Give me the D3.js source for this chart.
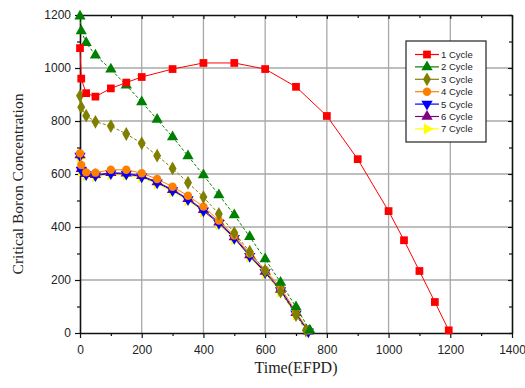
<!DOCTYPE html>
<html>
<head>
<meta charset="utf-8">
<script src="https://cdn.jsdelivr.net/npm/d3@7"></script>
<style>
  body { margin: 0; background: #fff; }
  svg text { font-family: Arial, "Liberation Sans", sans-serif; }
</style>
</head>
<body>
<div id="wrapper"></div>
<script>
// data
const xLong = [0, 4, 20, 50, 100, 150, 200, 300, 400, 500, 600, 700, 800, 900, 1000, 1050, 1100, 1150, 1195]
const cycle1 = [1075, 960, 905, 892, 923, 945, 966, 996, 1019, 1019, 996, 929, 819, 656, 460, 350, 234, 117, 10]

const xC2 = [0, 4, 20, 50, 100, 150, 200, 250, 300, 350, 400, 450, 500, 550, 600, 650, 700, 745]
const cycle2 = [1195, 1140, 1095, 1048, 995, 935, 872, 806, 740, 668, 596, 521, 445, 363, 279, 191, 98, 10]

const xC3 = [0, 4, 20, 50, 100, 150, 200, 250, 300, 350, 400, 450, 500, 550, 600, 650, 700, 732]
const cycle3 = [895, 852, 820, 797, 781, 751, 716, 669, 621, 567, 513, 449, 378, 307, 235, 156, 68, 10]

const xShort = [0, 4, 20, 50, 100, 150, 200, 250, 300, 350, 400, 450, 500, 550, 600, 650, 700, 740]
const cycle4 = [678, 634, 606, 605, 616, 616, 603, 581, 552, 518, 477, 424, 368, 300, 238, 172, 80, 10]
const cycle5 = [668, 615, 598, 594, 602, 600, 590, 567, 538, 504, 461, 414, 358, 290, 228, 160, 72, 5]
const cycle6 = [672, 620, 601, 597, 605, 603, 593, 570, 541, 507, 465, 418, 362, 294, 232, 164, 76, 7]
const cycle7 = [662, 610, 593, 590, 598, 596, 586, 563, 534, 500, 457, 410, 354, 286, 224, 156, 68, 4]

const xTicks = [0, 200, 400, 600, 800, 1000, 1200, 1400]
const yTicks = [0, 200, 400, 600, 800, 1000, 1200]

const series = [
    { name: "1 Cycle", xs: xLong, ys: cycle1, color: "#ff0000", shape: "square", dash: null },
    { name: "2 Cycle", xs: xC2, ys: cycle2, color: "#008000", shape: "triUp", dash: "3,2" },
    { name: "3 Cycle", xs: xC3, ys: cycle3, color: "#808000", shape: "diamond", dash: "3,2" },
    { name: "4 Cycle", xs: xShort, ys: cycle4, color: "#ff8000", shape: "circle", dash: null },
    { name: "5 Cycle", xs: xShort, ys: cycle5, color: "#0000ff", shape: "triDown", dash: null },
    { name: "6 Cycle", xs: xShort, ys: cycle6, color: "#800080", shape: "triUp", dash: null },
    { name: "7 Cycle", xs: xShort, ys: cycle7, color: "#ffff00", shape: "triRight", dash: null },
]

// 1. dimensions
let dimensions = {
    width: 525,
    height: 388,
    margin: { top: 15, right: 13, bottom: 55, left: 80 },
}
dimensions.boundedWidth = dimensions.width - dimensions.margin.left - dimensions.margin.right
dimensions.boundedHeight = dimensions.height - dimensions.margin.top - dimensions.margin.bottom

const wrapper = d3.select("#wrapper")
    .append("svg")
    .attr("width", dimensions.width)
    .attr("height", dimensions.height)

const bounds = wrapper.append("g")
    .attr("transform", `translate(${dimensions.margin.left}, ${dimensions.margin.top})`)

const xScale = d3.scaleLinear().domain([0, 1400]).range([0, dimensions.boundedWidth])
const yScale = d3.scaleLinear().domain([0, 1200]).range([dimensions.boundedHeight, 0])

// grid
bounds.append("g").selectAll("line")
    .data(xTicks.filter(d => d > 0 && d < 1400))
    .join("line")
    .attr("x1", d => xScale(d)).attr("x2", d => xScale(d))
    .attr("y1", 0).attr("y2", dimensions.boundedHeight)
    .attr("stroke", "#a8a8a8").attr("stroke-width", 1.3)
bounds.append("g").selectAll("line")
    .data(yTicks.filter(d => d > 0 && d < 1200))
    .join("line")
    .attr("y1", d => yScale(d)).attr("y2", d => yScale(d))
    .attr("x1", 0).attr("x2", dimensions.boundedWidth)
    .attr("stroke", "#a8a8a8").attr("stroke-width", 1.3)

// axes
const minorX = d3.range(0, 1401, 100)
const minorY = d3.range(0, 1201, 100)

const xAxis = bounds.append("g")
    .attr("transform", `translate(0, ${dimensions.boundedHeight})`)
    .call(d3.axisBottom(xScale).tickValues(minorX).tickSize(5).tickSizeOuter(0)
        .tickFormat(d => xTicks.includes(d) ? d : ""))
xAxis.selectAll("text").attr("font-size", 12).attr("fill", "#222").attr("dy", "1.05em")

const yAxis = bounds.append("g")
    .call(d3.axisLeft(yScale).tickValues(minorY).tickSize(5).tickSizeOuter(0)
        .tickFormat(d => yTicks.includes(d) ? d : ""))
yAxis.selectAll("text").attr("font-size", 12).attr("fill", "#222").attr("x", -9)

const topAxis = bounds.append("g")
    .call(d3.axisBottom(xScale).tickValues(minorX).tickSize(4).tickSizeOuter(0).tickFormat(""))
const rightAxis = bounds.append("g")
    .attr("transform", `translate(${dimensions.boundedWidth}, 0)`)
    .call(d3.axisLeft(yScale).tickValues(minorY).tickSize(4).tickSizeOuter(0).tickFormat(""))

// minor ticks shorter
;[xAxis, yAxis, topAxis, rightAxis].forEach(ax => {
    ax.selectAll(".domain").attr("stroke", "#111").attr("stroke-width", 1.6)
    ax.selectAll(".tick line").attr("stroke", "#111").attr("stroke-width", 1.2)
})
xAxis.selectAll(".tick").filter(d => !xTicks.includes(d)).select("line").attr("y2", 3)
yAxis.selectAll(".tick").filter(d => !yTicks.includes(d)).select("line").attr("x2", -3)
topAxis.selectAll(".tick").filter(d => !xTicks.includes(d)).select("line").attr("y2", 3)
rightAxis.selectAll(".tick").filter(d => !yTicks.includes(d)).select("line").attr("x2", -3)

// markers
const sym = {
    square: d3.symbol(d3.symbolSquare, 60),
    triUp: d3.symbol(d3.symbolTriangle, 55),
    diamond: d3.symbol(d3.symbolDiamond, 55),
    circle: d3.symbol(d3.symbolCircle, 55),
    triDown: d3.symbol(d3.symbolTriangle, 55),
    triRight: d3.symbol(d3.symbolTriangle, 55),
}
const rot = { triDown: 180, triRight: 90 }

function drawMarker (g, shape, color, x, y) {
    g.append("path")
        .attr("d", sym[shape]())
        .attr("transform", `translate(${x}, ${y}) rotate(${rot[shape] || 0})`)
        .attr("fill", color)
}

const line = d3.line().x(d => xScale(d[0])).y(d => yScale(d[1]))

// series drawn last-to-first so cycle 1 ends up on top
series.slice().reverse().forEach(s => {
    const pts = s.xs.map((x, i) => [x, s.ys[i]])
    const g = bounds.append("g")
    g.append("path")
        .datum(pts)
        .attr("d", line)
        .attr("fill", "none")
        .attr("stroke", s.color)
        .attr("stroke-width", 1)
        .attr("stroke-dasharray", s.dash)
    pts.forEach(p => drawMarker(g, s.shape, s.color, xScale(p[0]), yScale(p[1])))
})

// legend
const legend = wrapper.append("g").attr("transform", "translate(406, 41)")
legend.append("rect")
    .attr("width", 80).attr("height", 101)
    .attr("fill", "#fff").attr("stroke", "#222").attr("stroke-width", 1.2)
series.forEach((s, i) => {
    const y = 13.5 + i * 12.4
    legend.append("line")
        .attr("x1", 9).attr("x2", 33).attr("y1", y).attr("y2", y)
        .attr("stroke", s.color).attr("stroke-width", 1.2)
    drawMarker(legend, s.shape, s.color, 21, y)
    legend.append("text")
        .attr("x", 35).attr("y", y + 3.5)
        .attr("font-size", 9.5).attr("fill", "#222")
        .text(s.name)
})

// axis titles
wrapper.append("text")
    .attr("x", dimensions.margin.left + xScale(700))
    .attr("y", 373)
    .attr("text-anchor", "middle")
    .style("font-family", "'Liberation Serif', 'Times New Roman', serif")
    .attr("font-size", 16)
    .attr("fill", "#222")
    .text("Time(EFPD)")

wrapper.append("text")
    .attr("transform", "translate(23, 184) rotate(-90)")
    .attr("text-anchor", "middle")
    .style("font-family", "'Liberation Serif', 'Times New Roman', serif")
    .attr("font-size", 15.5)
    .attr("fill", "#222")
    .text("Critical Boron Concentration")
</script>
</body>
</html>
